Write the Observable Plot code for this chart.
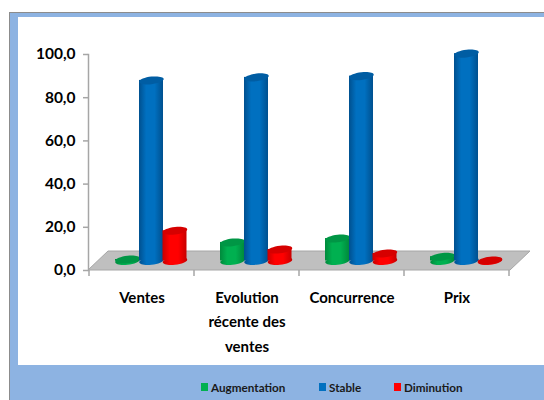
<!DOCTYPE html>
<html><head><meta charset="utf-8">
<script src="https://cdn.jsdelivr.net/npm/d3@7"></script>
<script src="https://cdn.jsdelivr.net/npm/@observablehq/plot@0.6"></script>
<style>
html,body{margin:0;padding:0;background:#fff;}
#page{position:relative;width:544px;height:400px;overflow:hidden;background:#fff;}
#frame{position:absolute;left:9px;top:12px;right:-10px;bottom:-10px;background:#8db3e2;border:1px solid #8c8c8c;border-right:0;border-bottom:0;}
#inner{position:absolute;left:18px;top:17px;right:0;height:348px;background:#fff;}
#chart{position:absolute;left:0;top:0;}
#chart svg{background:transparent!important;}
#legend{position:absolute;left:0;top:380px;width:544px;height:14px;font:bold 11.7px Lato,sans-serif;color:#1a1a1a;}
#legend span{position:absolute;white-space:nowrap;line-height:14px;}
#legend i{position:absolute;width:7px;height:8px;top:3px;}
</style></head><body>
<div id="page"><div id="frame"></div><div id="inner"></div><div id="chart"></div><div id="legend"></div></div>
<script>
const categories = ["Ventes", "Evolution récente des ventes", "Concurrence", "Prix"];
const tickLabels = ["Ventes", "Evolution\nrécente des\nventes", "Concurrence", "Prix"];
const yTicks = [0, 20, 40, 60, 80, 100];
const augmentation = [0.7, 8.6, 10.4, 2.0];
const stable = [83.6, 85.0, 85.6, 96.0];
const diminution = [14.0, 5.3, 3.5, 0.2];

const seriesList = [
  {name: "Augmentation", values: augmentation, id: "gGreen", edge: "#008a3c", mid: "#00b050", top: "#009645", swatch: "#00b050", dx: -14.5},
  {name: "Stable", values: stable, id: "gBlue", edge: "#00508f", mid: "#0070c0", top: "#005da3", swatch: "#0070c0", dx: 9.5},
  {name: "Diminution", values: diminution, id: "gRed", edge: "#c80000", mid: "#ff0000", top: "#d60000", swatch: "#ff0000", dx: 33}
];

const depthY = -9.5;
const barW = 24.5;

// Flattened, slightly tilted ellipse used for the cylinder caps
const capSymbol = {
  draw(ctx) {
    const a = barW / 2, b = 3.8, t = 0.11, k = 0.5523;
    const P = (x, y) => [x, y - t * x];
    ctx.moveTo(...P(-a, 0));
    ctx.bezierCurveTo(...P(-a, -k * b), ...P(-k * a, -b), ...P(0, -b));
    ctx.bezierCurveTo(...P(k * a, -b), ...P(a, -k * b), ...P(a, 0));
    ctx.bezierCurveTo(...P(a, k * b), ...P(k * a, b), ...P(0, b));
    ctx.bezierCurveTo(...P(-k * a, b), ...P(-a, k * b), ...P(-a, 0));
    ctx.closePath();
  }
};

function gradients() {
  const defs = d3.create("svg:defs");
  for (const s of seriesList) {
    const g = defs.append("linearGradient").attr("id", s.id);
    [[0, s.edge], [0.3, s.mid], [0.65, s.mid], [1, s.edge]].forEach(([o, c]) =>
      g.append("stop").attr("offset", o).attr("stop-color", c));
  }
  return defs.node();
}

function floor(index, {x, y, scales}, values, {width, marginLeft, marginRight}) {
  const g = d3.create("svg:g");
  const y0 = y(0), x0 = marginLeft, x1 = width - marginRight, d = 20;
  g.append("path")
    .attr("d", `M${x0},${y0}L${x1},${y0}L${x1 + d},${y0 - 19}L${x0 + d},${y0 - 19}Z`)
    .attr("fill", "#bfbfbf").attr("stroke", "#a6a6a6");
  const bw = scales.x.bandwidth;
  const edges = categories.map(c => x(c)).concat([x(categories[3]) + bw]);
  for (const e of edges) {
    g.append("line").attr("x1", e).attr("x2", e).attr("y1", y0).attr("y2", y0 + 6)
      .attr("stroke", "#a6a6a6").attr("stroke-width", 1.5);
  }
  return g.node();
}

const barMarks = seriesList.flatMap(s => {
  const rows = categories.map((c, i) => ({c, v: s.values[i]}));
  const inset = (105.5 - barW) / 2;
  return [
    Plot.dot(rows, {x: "c", y: () => 0, r: 3, symbol: capSymbol, fill: `url(#${s.id})`, stroke: "none", dx: s.dx, dy: depthY}),
    Plot.barY(rows, {x: "c", y: "v", fill: `url(#${s.id})`, insetLeft: inset, insetRight: inset, dx: s.dx, dy: depthY}),
    Plot.dot(rows, {x: "c", y: "v", r: 3, symbol: capSymbol, fill: s.top, stroke: "none", dx: s.dx, dy: depthY})
  ];
});

const font = 'Lato,sans-serif';
const chart = Plot.plot({
  width: 544, height: 400,
  marginLeft: 88, marginRight: 34, marginTop: 54, marginBottom: 130,
  style: {background: "transparent", fontFamily: font},
  x: {domain: categories, padding: 0, label: null},
  y: {domain: [0, 100], label: null},
  marks: [
    floor,
    Plot.frame({anchor: "left", stroke: "#a6a6a6", strokeWidth: 1.5}),
    Plot.axisY({ticks: yTicks, tickSize: 5, tickPadding: 8, stroke: "#a6a6a6", strokeWidth: 1.5, label: null,
      tickFormat: d => d3.format(".1f")(d).replace(".", ","),
      fontSize: 15.5, fontWeight: "bold", fill: "#000"}),
    Plot.axisX({tickSize: 0, tickPadding: 15, label: null, lineHeight: 1.63,
      tickFormat: d => tickLabels[categories.indexOf(d)],
      fontSize: 15, fontWeight: "bold", fill: "#000", textAnchor: "middle"}),
    gradients,
    ...barMarks
  ]
});
document.getElementById("chart").append(chart);

const legendPos = [[201, 211], [319, 329], [394, 404]];
const legend = document.getElementById("legend");
seriesList.forEach((s, i) => {
  const sw = document.createElement("i");
  sw.style.left = legendPos[i][0] + "px"; sw.style.background = s.swatch;
  const t = document.createElement("span");
  t.style.left = legendPos[i][1] + "px"; t.textContent = s.name;
  legend.append(sw, t);
});
</script></body></html>
